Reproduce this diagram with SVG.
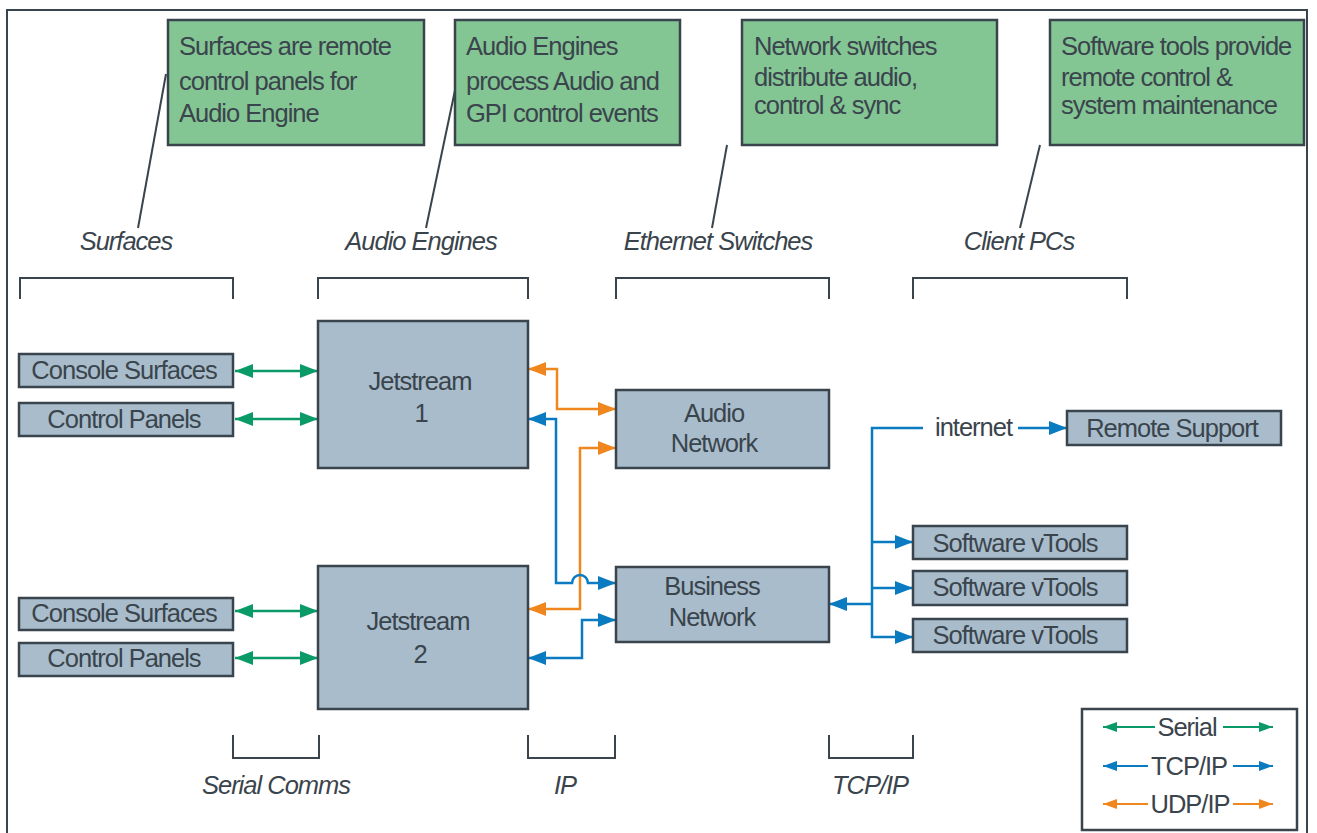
<svg xmlns="http://www.w3.org/2000/svg" width="1317" height="833" viewBox="0 0 1317 833" font-family="Liberation Sans, Arial, Helvetica, sans-serif">
<defs>
<style>
.t{font-size:25.5px;letter-spacing:-1px;fill:#3a444c}
.i{font-style:italic}
.m{text-anchor:middle}
.node{fill:#a8bccb;stroke:#3a444c;stroke-width:2.5}
.call{fill:#84c594;stroke:#3a444c;stroke-width:2.5}
.br{fill:none;stroke:#3a444c;stroke-width:2}
.g{fill:none;stroke:#0a9a68;stroke-width:2.5;marker-start:url(#ag);marker-end:url(#ag)}
.b{fill:none;stroke:#0a7bc1;stroke-width:2.5}
.o{fill:none;stroke:#f0871e;stroke-width:2.5}
</style>
<marker id="ag" viewBox="0 0 18 14" refX="18" refY="7" markerWidth="18" markerHeight="14" markerUnits="userSpaceOnUse" orient="auto-start-reverse"><path d="M0,0L18,7L0,14z" fill="#0a9a68"/></marker>
<marker id="ab" viewBox="0 0 18 14" refX="18" refY="7" markerWidth="18" markerHeight="14" markerUnits="userSpaceOnUse" orient="auto-start-reverse"><path d="M0,0L18,7L0,14z" fill="#0a7bc1"/></marker>
<marker id="ao" viewBox="0 0 18 14" refX="18" refY="7" markerWidth="18" markerHeight="14" markerUnits="userSpaceOnUse" orient="auto-start-reverse"><path d="M0,0L18,7L0,14z" fill="#f0871e"/></marker>
<marker id="sg" viewBox="0 0 14 10" refX="14" refY="5" markerWidth="14" markerHeight="10" markerUnits="userSpaceOnUse" orient="auto"><path d="M0,0L14,5L0,10z" fill="#0a9a68"/></marker>
<marker id="sb" viewBox="0 0 14 10" refX="14" refY="5" markerWidth="14" markerHeight="10" markerUnits="userSpaceOnUse" orient="auto"><path d="M0,0L14,5L0,10z" fill="#0a7bc1"/></marker>
<marker id="so" viewBox="0 0 14 10" refX="14" refY="5" markerWidth="14" markerHeight="10" markerUnits="userSpaceOnUse" orient="auto"><path d="M0,0L14,5L0,10z" fill="#f0871e"/></marker>
</defs>
<rect x="0" y="0" width="1317" height="833" fill="#ffffff"/>
<rect x="7" y="10" width="1300" height="840" fill="none" stroke="#3a444c" stroke-width="2"/>

<g id="callouts">
<g id="callout-surfaces">
<line x1="166" y1="74" x2="138" y2="228" stroke="#3a444c" stroke-width="2"/>
<rect class="call" x="168" y="20" width="256" height="125"/>
<text class="t" x="179" y="55">Surfaces are remote</text>
<text class="t" x="179" y="90">control panels for</text>
<text class="t" x="179" y="122">Audio Engine</text>
</g>
<g id="callout-engines">
<line x1="458" y1="76" x2="426" y2="228" stroke="#3a444c" stroke-width="2"/>
<rect class="call" x="455" y="20" width="225" height="125"/>
<text class="t" x="466" y="55">Audio Engines</text>
<text class="t" x="466" y="90">process Audio and</text>
<text class="t" x="466" y="122">GPI control events</text>
</g>
<g id="callout-switches">
<line x1="727" y1="145" x2="712" y2="228" stroke="#3a444c" stroke-width="2"/>
<rect class="call" x="742" y="20" width="255" height="125"/>
<text class="t" x="754" y="55">Network switches</text>
<text class="t" x="754" y="86">distribute audio,</text>
<text class="t" x="754" y="114">control &amp; sync</text>
</g>
<g id="callout-tools">
<line x1="1040" y1="145" x2="1020" y2="228" stroke="#3a444c" stroke-width="2"/>
<rect class="call" x="1050" y="20" width="254" height="125"/>
<text class="t" x="1061" y="55">Software tools provide</text>
<text class="t" x="1061" y="86">remote control &amp;</text>
<text class="t" x="1061" y="114">system maintenance</text>
</g>
</g>

<g id="categories">
<text class="t i m" x="126" y="250">Surfaces</text>
<text class="t i m" x="421" y="250">Audio Engines</text>
<text class="t i m" x="718" y="250">Ethernet Switches</text>
<text class="t i m" x="1019" y="250">Client PCs</text>
<path class="br" d="M20,299V278H233V299M318,299V278H528V299M616,299V278H829V299M913,299V278H1127V299"/>
<path class="br" d="M233,735V758H319V735M528,735V758H615V735M829,735V758H913V735"/>
<text class="t i m" x="276" y="794">Serial Comms</text>
<text class="t i m" x="565" y="794">IP</text>
<text class="t i m" x="870" y="794">TCP/IP</text>
</g>

<g id="connectors">
<line class="g" x1="235" y1="371" x2="318" y2="371"/>
<line class="g" x1="235" y1="419" x2="318" y2="419"/>
<line class="g" x1="235" y1="611" x2="318" y2="611"/>
<line class="g" x1="235" y1="658" x2="318" y2="658"/>
<path class="o" d="M528,369H557V409H616" marker-start="url(#ao)" marker-end="url(#ao)"/>
<path class="o" d="M528,609H580V448H616" marker-start="url(#ao)" marker-end="url(#ao)"/>
<path class="b" d="M528,419H556V583H572A8,8 0 0 1 588,583H616" marker-start="url(#ab)" marker-end="url(#ab)"/>
<path class="b" d="M528,658H582V620H616" marker-start="url(#ab)" marker-end="url(#ab)"/>
<path class="b" d="M829,604H872" marker-start="url(#ab)"/>
<path class="b" d="M923,428H872V637H913" marker-end="url(#ab)"/>
<path class="b" d="M872,542H913" marker-end="url(#ab)"/>
<path class="b" d="M872,588H913" marker-end="url(#ab)"/>
<path class="b" d="M1018,428H1067" marker-end="url(#ab)"/>
<text class="t" x="935" y="436">internet</text>
</g>

<g id="console-surfaces-1"><rect class="node" x="19" y="354" width="214" height="33"/><text class="t m" x="124" y="379">Console Surfaces</text></g>
<g id="control-panels-1"><rect class="node" x="19" y="403" width="214" height="33"/><text class="t m" x="124" y="428">Control Panels</text></g>
<g id="jetstream-1"><rect class="node" x="318" y="321" width="210" height="147"/><text class="t m" x="420" y="390">Jetstream</text><text class="t m" x="421" y="422">1</text></g>
<g id="audio-network"><rect class="node" x="616" y="390" width="213" height="78"/><text class="t m" x="714" y="422">Audio</text><text class="t m" x="714" y="452">Network</text></g>
<g id="console-surfaces-2"><rect class="node" x="19" y="598" width="214" height="32"/><text class="t m" x="124" y="622">Console Surfaces</text></g>
<g id="control-panels-2"><rect class="node" x="19" y="643" width="214" height="33"/><text class="t m" x="124" y="667">Control Panels</text></g>
<g id="jetstream-2"><rect class="node" x="318" y="566" width="210" height="143"/><text class="t m" x="418" y="630">Jetstream</text><text class="t m" x="420" y="663">2</text></g>
<g id="business-network"><rect class="node" x="616" y="567" width="213" height="75"/><text class="t m" x="712" y="595">Business</text><text class="t m" x="712" y="626">Network</text></g>
<g id="remote-support"><rect class="node" x="1067" y="411" width="214" height="34"/><text class="t m" x="1172" y="437">Remote Support</text></g>
<g id="vtools-1"><rect class="node" x="913" y="526" width="214" height="33"/><text class="t m" x="1015" y="552">Software vTools</text></g>
<g id="vtools-2"><rect class="node" x="913" y="571" width="214" height="34"/><text class="t m" x="1015" y="596">Software vTools</text></g>
<g id="vtools-3"><rect class="node" x="913" y="619" width="214" height="33"/><text class="t m" x="1015" y="644">Software vTools</text></g>

<g id="legend">
<rect x="1082" y="709" width="215" height="121" fill="#ffffff" stroke="#3a444c" stroke-width="2.5"/>
<line x1="1155" y1="727" x2="1103" y2="727" stroke="#0a9a68" stroke-width="2" marker-end="url(#sg)"/>
<line x1="1223" y1="727" x2="1273" y2="727" stroke="#0a9a68" stroke-width="2" marker-end="url(#sg)"/>
<text class="t m" x="1187" y="736">Serial</text>
<line x1="1148" y1="766" x2="1103" y2="766" stroke="#0a7bc1" stroke-width="2" marker-end="url(#sb)"/>
<line x1="1233" y1="766" x2="1273" y2="766" stroke="#0a7bc1" stroke-width="2" marker-end="url(#sb)"/>
<text class="t m" x="1189" y="775">TCP/IP</text>
<line x1="1148" y1="804" x2="1103" y2="804" stroke="#f0871e" stroke-width="2" marker-end="url(#so)"/>
<line x1="1233" y1="804" x2="1273" y2="804" stroke="#f0871e" stroke-width="2" marker-end="url(#so)"/>
<text class="t m" x="1190" y="813">UDP/IP</text>
</g>
</svg>
